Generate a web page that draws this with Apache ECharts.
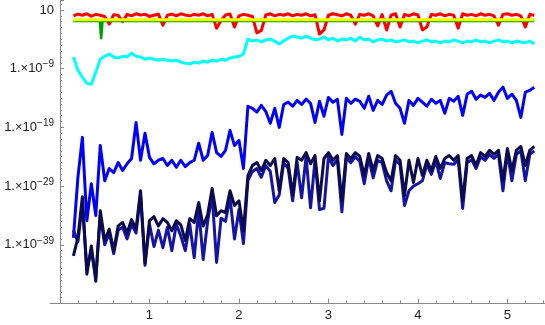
<!DOCTYPE html>
<html>
<head>
<meta charset="utf-8">
<script src="https://cdn.jsdelivr.net/npm/echarts@6/dist/echarts.min.js"></script>
<style>
html, body { margin: 0; padding: 0; background: #fff; }
#main { width: 545px; height: 325px; }
</style>
</head>
<body>
<div id="main"></div>
<script>
// x positions shared by the noisy series
var xs = [0.15, 0.20, 0.25, 0.30, 0.35, 0.40, 0.45, 0.50, 0.55, 0.60,
  0.65, 0.70, 0.75, 0.80, 0.85, 0.90, 0.95, 1.00, 1.05, 1.10,
  1.15, 1.20, 1.25, 1.30, 1.35, 1.40, 1.45, 1.50, 1.55, 1.60,
  1.65, 1.70, 1.75, 1.80, 1.85, 1.90, 1.95, 2.00, 2.05, 2.10,
  2.15, 2.20, 2.25, 2.30, 2.35, 2.40, 2.45, 2.50, 2.55, 2.60,
  2.65, 2.70, 2.75, 2.80, 2.85, 2.90, 2.95, 3.00, 3.05, 3.10,
  3.15, 3.20, 3.25, 3.30, 3.35, 3.40, 3.45, 3.50, 3.55, 3.60,
  3.65, 3.70, 3.75, 3.80, 3.85, 3.90, 3.95, 4.00, 4.05, 4.10,
  4.15, 4.20, 4.25, 4.30, 4.35, 4.40, 4.45, 4.50, 4.55, 4.60,
  4.65, 4.70, 4.75, 4.80, 4.85, 4.90, 4.95, 5.00, 5.05, 5.10,
  5.15, 5.20, 5.25, 5.30];

// all y values are log10 of the plotted quantity
var redLog = [0.0, 0.3, 0.1, 0.35, -0.05, 0.25, 0.1, -0.1, -1.4, 0.2,
  0.1, -1.0, 0.25, 0.0, 0.35, 0.15, 0.25, -0.1, 0.1, 0.3,
  -1.6, 0.1, 0.3, 0.0, 0.35, 0.15, 0.0, 0.25, 0.1, 0.35,
  0.0, 0.25, -2.1, -0.8, 0.15, 0.3, -1.9, 0.0, 0.25, 0.1,
  -0.1, -2.9, -2.5, 0.15, 0.35, 0.0, 0.25, 0.1, 0.35, 0.0,
  0.25, 0.1, 0.35, 0.0, 0.2, -3.1, -2.4, 0.1, 0.35, 0.2,
  0.0, 0.35, 0.1, -1.4, 0.25, 0.1, 0.35, 0.0, -1.7, 0.2,
  -2.4, 0.1, 0.35, -1.9, 0.25, 0.0, 0.35, 0.15, -2.4, -1.9,
  0.25, 0.1, 0.35, 0.0, 0.25, 0.1, -2.1, 0.35, 0.1, 0.25,
  0.0, 0.35, 0.1, 0.25, 0.0, -1.6, 0.25, 0.35, 0.1, 0.25,
  0.0, -1.9, 0.25, 0.1];

var greenPts = [[0.15, -0.88], [0.445, -0.88], [0.46, -3.8], [0.475, -0.88], [5.30, -0.88]];
var yellowPts = [[0.15, -0.66], [5.30, -0.66]];

var cyanLog = [-7.0, -9.25, -10.45, -11.5, -11.65, -9.6, -7.4, -6.9, -6.5, -7.0,
  -7.2, -6.9, -7.0, -6.35, -6.9, -7.0, -7.4, -7.2, -7.4, -7.55,
  -7.4, -7.55, -7.7, -7.55, -7.9, -8.05, -8.2, -7.9, -8.05, -7.7,
  -7.9, -7.55, -7.7, -7.4, -7.55, -7.2, -7.0, -6.9, -6.5, -3.95,
  -4.3, -4.1, -4.45, -4.1, -3.95, -4.3, -4.8, -4.3, -3.8, -3.45,
  -3.6, -3.8, -3.45, -3.8, -4.1, -3.95, -3.6, -4.1, -3.8, -4.3,
  -3.95, -4.1, -3.8, -4.3, -3.6, -4.1, -3.95, -4.45, -4.1, -3.95,
  -4.3, -4.1, -4.45, -4.3, -4.1, -4.45, -4.3, -4.6, -4.3, -4.1,
  -4.45, -4.3, -4.6, -4.3, -4.45, -4.1, -4.3, -4.6, -4.3, -4.45,
  -4.1, -4.45, -4.3, -4.6, -4.3, -4.1, -4.45, -4.3, -4.6, -4.3,
  -4.45, -4.6, -4.3, -4.8];

var blueLog = [-37.8, -27.55, -20.7, -34.9, -28.6, -34.0, -22.1, -28.1, -26.0, -26.7,
  -25.0, -26.35, -25.2, -24.3, -18.15, -24.6, -20.0, -24.1, -25.2, -24.6,
  -24.3, -25.5, -24.6, -25.8, -24.6, -25.7, -25.0, -24.6, -21.7, -24.6,
  -23.8, -19.85, -23.3, -23.95, -22.9, -19.5, -22.1, -21.2, -26.0, -15.4,
  -15.75, -16.4, -15.25, -16.3, -18.3, -15.75, -19.0, -15.1, -14.7, -15.4,
  -14.4, -15.1, -14.2, -14.9, -18.15, -14.55, -17.1, -13.9, -14.7, -14.2,
  -20.2, -14.05, -14.9, -14.2, -14.55, -15.75, -13.7, -16.1, -14.4, -15.1,
  -13.5, -12.85, -14.9, -15.75, -18.3, -14.4, -15.25, -14.05, -14.7, -15.4,
  -14.2, -14.9, -14.4, -16.6, -14.05, -14.55, -13.7, -16.95, -13.35, -12.85,
  -14.2, -13.5, -13.9, -13.2, -14.4, -13.0, -12.15, -14.05, -13.35, -14.4,
  -17.3, -13.0, -12.7, -12.15];

var midBlueLog = [-36.5, -38.5, -32.0, -43.0, -40.0, -44.5, -34.0, -39.0, -37.0, -40.5,
  -36.5, -36.0, -38.0, -35.5, -37.0, -30.5, -42.5, -35.5, -39.3, -36.5,
  -39.5, -36.0, -40.0, -35.5, -37.5, -40.0, -35.5, -41.2, -33.0, -41.5,
  -35.0, -30.5, -42.0, -34.5, -35.0, -31.0, -38.0, -33.0, -38.8, -28.0,
  -26.5, -26.0, -27.5, -25.5, -26.5, -31.8, -30.5, -25.0, -26.0, -31.5,
  -25.0, -31.0, -24.0, -32.7, -24.5, -33.0, -32.8, -24.0, -25.5, -24.5,
  -33.4, -24.2, -25.0, -24.0, -24.8, -28.6, -24.2, -27.6, -24.6, -25.0,
  -28.1, -29.8, -24.6, -25.3, -32.3, -29.8, -29.0, -28.6, -28.1, -25.3,
  -27.0, -24.7, -27.7, -25.0, -25.2, -25.3, -24.5, -32.8, -25.0, -24.5,
  -26.0, -24.0, -24.6, -23.6, -24.3, -23.6, -29.8, -23.3, -28.1, -23.6,
  -23.0, -28.1, -23.6, -23.0];

var navyLog = [-40.9, -37.8, -30.8, -44.0, -39.2, -45.2, -33.2, -38.3, -36.3, -40.0,
  -35.8, -35.2, -36.95, -34.7, -36.3, -29.8, -42.1, -34.9, -34.2, -35.8,
  -34.55, -35.2, -36.6, -34.9, -35.6, -38.3, -34.55, -35.2, -31.8, -35.8,
  -33.9, -29.4, -34.05, -33.2, -33.5, -29.8, -32.3, -31.5, -36.6, -27.2,
  -25.5, -25.0, -26.35, -24.6, -25.5, -24.3, -29.8, -24.3, -25.0, -30.6,
  -24.1, -24.6, -23.3, -25.2, -23.8, -31.5, -24.3, -23.3, -24.6, -23.8,
  -31.5, -23.45, -24.3, -23.3, -23.95, -27.2, -23.45, -26.35, -23.8, -24.3,
  -26.7, -28.1, -23.8, -24.6, -30.6, -24.6, -28.4, -24.3, -27.2, -24.6,
  -26.35, -23.95, -26.0, -24.3, -23.8, -24.6, -23.8, -31.5, -24.3, -23.8,
  -25.5, -23.3, -23.95, -22.9, -23.6, -22.9, -28.1, -22.6, -26.35, -22.9,
  -22.25, -25.5, -22.9, -22.25];

function pairs(ys) {
  return xs.map(function (x, i) { return [x, ys[i]]; });
}

function line(name, data, color, width) {
  return {
    name: name,
    type: 'line',
    data: data,
    showSymbol: false,
    symbol: 'none',
    silent: true,
    lineStyle: { color: color, width: width, join: 'round' }
  };
}

var chartDom = document.getElementById('main');
var myChart = echarts.init(chartDom);
var axisGray = '#8a8a8a';
var font = 'Liberation Sans, Arial, sans-serif';
var option;
option = {
  animation: false,
  grid: [
    { left: 60, right: 0, top: 0, bottom: 21.5, containLabel: false, outerBoundsMode: 'none' },
    { left: 50, width: 10, top: 0, bottom: 21.5, containLabel: false, outerBoundsMode: 'none' }
  ],
  xAxis: [
    {
      type: 'value', gridIndex: 0, min: 0, max: 5.42, interval: 1,
      axisLine: { onZero: false, lineStyle: { color: axisGray, width: 1 } },
      axisTick: { inside: true, length: 5, lineStyle: { color: axisGray } },
      minorTick: { show: true, splitNumber: 5, length: 3, lineStyle: { color: axisGray } },
      splitLine: { show: false },
      axisLabel: {
        margin: 5, color: '#222', fontSize: 13, fontFamily: font,
        formatter: function (v) { return (v === 0 || v !== Math.round(v)) ? '' : String(v); }
      }
    },
    {
      type: 'value', gridIndex: 1, min: 0, max: 1,
      axisLine: { onZero: false, lineStyle: { color: axisGray, width: 1 } },
      axisTick: { show: false }, axisLabel: { show: false }, splitLine: { show: false }
    }
  ],
  yAxis: [
    {
      type: 'value', gridIndex: 0, min: -49, max: 2.7, interval: 10,
      axisLine: { show: true, onZero: false, lineStyle: { color: axisGray, width: 1 } },
      axisTick: { inside: true, length: 4, lineStyle: { color: axisGray } },
      minorTick: { show: true, splitNumber: 10, length: 2, lineStyle: { color: axisGray } },
      splitLine: { show: false },
      axisLabel: {
        margin: 6, color: '#222', fontSize: 13, fontFamily: font,
        formatter: function (v) {
          if (v === 1) return '{m|10}';
          if (v < -40 || v !== Math.round(v)) return '';
          return '{m|1.\u00d710}{s|\u2212' + (-v) + '}';
        },
        rich: {
          m: { fontSize: 13, color: '#222', fontFamily: font },
          s: { fontSize: 10, color: '#222', fontFamily: font, padding: [0, 0, 8, 0] }
        }
      }
    },
    { type: 'value', gridIndex: 1, min: 0, max: 1, show: false }
  ],
  series: [
    line('red', pairs(redLog), '#ff0000', 3),
    line('green', greenPts, '#00a000', 2.6),
    line('yellow', yellowPts, '#ffff00', 3),
    line('cyan', pairs(cyanLog), '#00ffff', 3),
    line('blue', pairs(blueLog), '#0000ff', 3),
    line('midblue', pairs(midBlueLog), '#1414a8', 3),
    line('navy', pairs(navyLog), '#0b0b4e', 3)
  ]
};

option && myChart.setOption(option);
</script>
</body>
</html>
